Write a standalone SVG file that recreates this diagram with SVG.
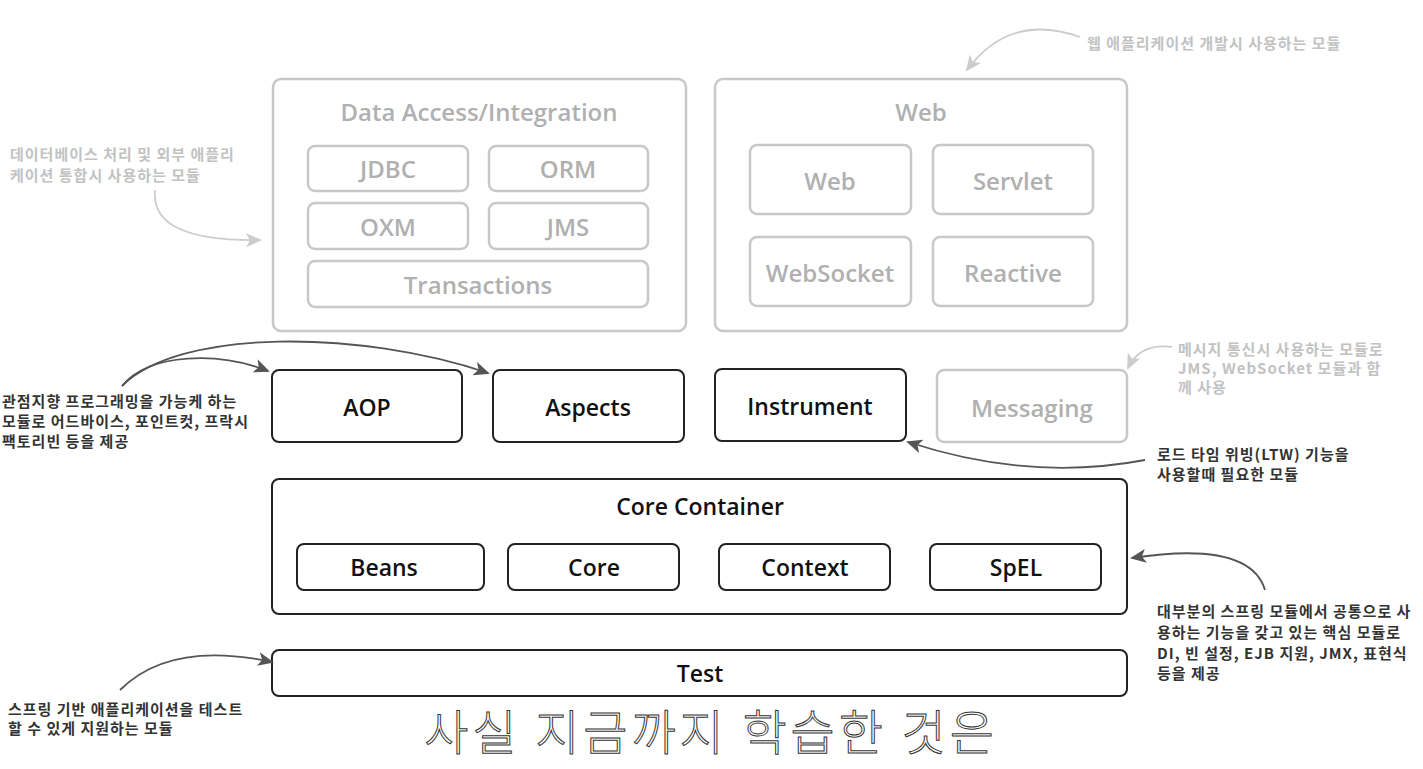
<svg xmlns="http://www.w3.org/2000/svg" width="1423" height="769" viewBox="0 0 1423 769">
<style>
.gbox{fill:#fff;stroke:#c8c8c8;stroke-width:2.5}
.dbox{fill:#fff;stroke:#222;stroke-width:2}
.gt{font-family:"Open Sans","Noto Sans",sans-serif;font-size:24px;font-weight:600;fill:#b0b0b0;text-anchor:middle;dominant-baseline:central}
.dt{font-family:"Open Sans","Noto Sans",sans-serif;font-size:23px;font-weight:600;fill:#111;text-anchor:middle;dominant-baseline:central}
.ann{font-family:"Noto Sans CJK KR",sans-serif;font-size:15px;font-weight:bold;letter-spacing:1px}
.annd{fill:#333}
.anng{fill:#c2c2c2}
.cd{fill:none;stroke:#555;stroke-width:1.8}
.cg{fill:none;stroke:#cccccc;stroke-width:1.8}
.sub{font-family:"Noto Sans CJK KR",sans-serif;font-size:48px;font-weight:300;letter-spacing:4px;fill:#fff;stroke:#333;stroke-width:1;text-anchor:middle}
</style>
<defs>
<marker id="ad" markerUnits="userSpaceOnUse" markerWidth="16" markerHeight="14" refX="14" refY="7" orient="auto" viewBox="0 0 16 14"><path d="M0,0 L16,7 L0,14 L4,7 z" fill="#555"/></marker>
<marker id="ag" markerUnits="userSpaceOnUse" markerWidth="16" markerHeight="14" refX="14" refY="7" orient="auto" viewBox="0 0 16 14"><path d="M0,0 L16,7 L0,14 L4,7 z" fill="#cccccc"/></marker>
</defs>
<rect width="1423" height="769" fill="#fff"/>

<g id="data-access">
<rect class="gbox" x="273" y="79" width="413" height="252" rx="8"/>
<text class="gt" x="479" y="111">Data Access/Integration</text>
<rect class="gbox" x="308" y="146" width="160" height="45" rx="7"/><text class="gt" x="388" y="168">JDBC</text>
<rect class="gbox" x="489" y="146" width="159" height="45" rx="7"/><text class="gt" x="568" y="168">ORM</text>
<rect class="gbox" x="308" y="203" width="160" height="46" rx="7"/><text class="gt" x="388" y="226">OXM</text>
<rect class="gbox" x="489" y="203" width="159" height="46" rx="7"/><text class="gt" x="568" y="226">JMS</text>
<rect class="gbox" x="308" y="261" width="340" height="46" rx="7"/><text class="gt" x="478" y="284">Transactions</text>
</g>

<g id="web">
<rect class="gbox" x="715" y="79" width="412" height="252" rx="8"/>
<text class="gt" x="921" y="111">Web</text>
<rect class="gbox" x="750" y="145" width="161" height="69" rx="7"/><text class="gt" x="830" y="180">Web</text>
<rect class="gbox" x="933" y="145" width="160" height="69" rx="7"/><text class="gt" x="1013" y="180">Servlet</text>
<rect class="gbox" x="750" y="237" width="161" height="69" rx="7"/><text class="gt" x="830" y="272">WebSocket</text>
<rect class="gbox" x="933" y="237" width="160" height="69" rx="7"/><text class="gt" x="1013" y="272">Reactive</text>
</g>

<g id="aop"><rect class="dbox" x="272" y="370" width="190" height="72" rx="7"/><text class="dt" x="367" y="407">AOP</text></g>
<g id="aspects"><rect class="dbox" x="493" y="370" width="191" height="72" rx="7"/><text class="dt" x="588" y="407">Aspects</text></g>
<g id="instrument"><rect class="dbox" x="715" y="369" width="191" height="72" rx="7"/><text class="dt" x="810" y="406">Instrument</text></g>
<g id="messaging"><rect class="gbox" x="937" y="370" width="190" height="72" rx="7"/><text class="gt" x="1032" y="407">Messaging</text></g>

<g id="core-container">
<rect class="dbox" x="272" y="479" width="855" height="135" rx="7"/>
<text class="dt" x="700" y="506">Core Container</text>
<rect class="dbox" x="297" y="544" width="187" height="46" rx="7"/><text class="dt" x="384" y="567">Beans</text>
<rect class="dbox" x="508" y="544" width="171" height="46" rx="7"/><text class="dt" x="594" y="567">Core</text>
<rect class="dbox" x="719" y="544" width="171" height="46" rx="7"/><text class="dt" x="805" y="567">Context</text>
<rect class="dbox" x="930" y="544" width="171" height="46" rx="7"/><text class="dt" x="1016" y="567">SpEL</text>
</g>

<g id="test"><rect class="dbox" x="272" y="650" width="855" height="46" rx="7"/><text class="dt" x="700" y="673">Test</text></g>

<g id="connectors">
<path class="cg" d="M1080,37 Q1010,12 967,70" marker-end="url(#ag)"/>
<path class="cg" d="M155,190 Q150,242 260,240" marker-end="url(#ag)"/>
<path class="cd" d="M122,386 C150,352 220,352 268,371" marker-end="url(#ad)"/>
<path class="cd" d="M122,386 C180,328 360,330 488,373" marker-end="url(#ad)"/>
<path class="cg" d="M1172,347 Q1140,343 1128,368" marker-end="url(#ag)"/>
<path class="cd" d="M1145,460 Q1030,482 908,442" marker-end="url(#ad)"/>
<path class="cd" d="M1265,590 Q1250,540 1132,558" marker-end="url(#ad)"/>
<path class="cd" d="M120,690 Q170,640 272,662" marker-end="url(#ad)"/>
</g>

<g id="annotations">
<text class="ann anng" x="1087" y="49">웹 애플리케이션 개발시 사용하는 모듈</text>
<text class="ann anng" x="10" y="160">데이터베이스 처리 및 외부 애플리</text>
<text class="ann anng" x="10" y="181">케이션 통합시 사용하는 모듈</text>
<text class="ann annd" x="2" y="407">관점지향 프로그래밍을 가능케 하는</text>
<text class="ann annd" x="2" y="427">모듈로 어드바이스, 포인트컷, 프락시</text>
<text class="ann annd" x="2" y="447">팩토리빈 등을 제공</text>
<text class="ann anng" x="1178" y="355">메시지 통신시 사용하는 모듈로</text>
<text class="ann anng" x="1178" y="374">JMS, WebSocket 모듈과 함</text>
<text class="ann anng" x="1178" y="393">께 사용</text>
<text class="ann annd" x="1157" y="460">로드 타임 위빙(LTW) 기능을</text>
<text class="ann annd" x="1157" y="480">사용할때 필요한 모듈</text>
<text class="ann annd" x="1157" y="617">대부분의 스프링 모듈에서 공통으로 사</text>
<text class="ann annd" x="1157" y="638">용하는 기능을 갖고 있는 핵심 모듈로</text>
<text class="ann annd" x="1157" y="659">DI, 빈 설정, EJB 지원, JMX, 표현식</text>
<text class="ann annd" x="1157" y="679">등을 제공</text>
<text class="ann annd" x="8" y="715">스프링 기반 애플리케이션을 테스트</text>
<text class="ann annd" x="8" y="734">할 수 있게 지원하는 모듈</text>
</g>

<text class="sub" x="711" y="750">사실 지금까지 학습한 것은</text>
</svg>
